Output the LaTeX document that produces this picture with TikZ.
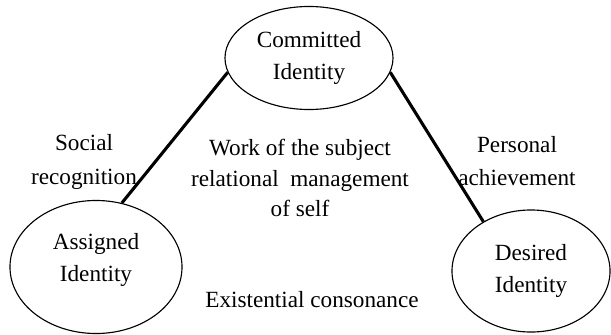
\documentclass[tikz,border=0pt]{standalone}
\usepackage{fontspec}
\setmainfont{Liberation Serif}
\usetikzlibrary{shapes.geometric}

\begin{document}
\begin{tikzpicture}[x=.025cm,y=-.025cm,join=round,font=\fontsize{16.5}{23}\selectfont,
        idt/.style={draw,ellipse,line width=.8pt,inner sep=0pt,align=center},
        lbl/.style={align=center,inner sep=0pt},
        link/.style={line width=2.2pt}] % three identities
        \useasboundingbox (0,0) rectangle (611,335);
        \node[idt,minimum width=4.2cm,minimum height=2.575cm] (com) at (309,58) {Committed\\Identity};
        \node[idt,minimum width=4.3cm,minimum height=3.325cm,text depth=14pt] (ass) at (96,267) {Assigned\\Identity};
        \node[idt,minimum width=3.95cm,minimum height=3.05cm] (des) at (531,271) {Desired\\Identity};
        \draw[link] (com.190) -- (ass.68);
        \draw[link] (com.350) -- (des.134);
        \node[lbl,font=\fontsize{16.5}{24}\selectfont] (soc) at (84,162) {Social\\recognition};
        \node[lbl] (per) at (517,161) {Personal\\achievement};
        \node[lbl,font=\fontsize{16.5}{21.5}\selectfont] (work) at (300,178) {Work of the subject\\relational~ management\\of self};
        \node[lbl] (exi) at (312,300) {Existential consonance};
    \end{tikzpicture}
\end{document}
